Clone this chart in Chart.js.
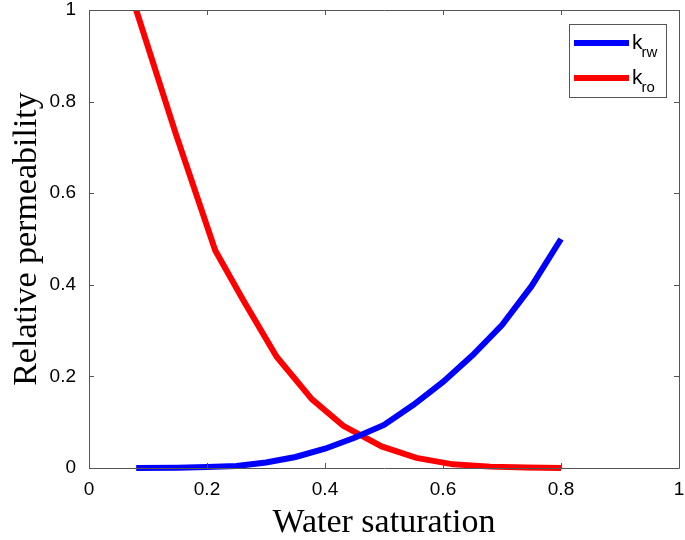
<!DOCTYPE html>
<html>
<head>
<meta charset="utf-8">
<script src="https://cdn.jsdelivr.net/npm/chart.js@4/dist/chart.umd.min.js"></script>
<style>
  html, body { margin: 0; padding: 0; background: #fff; }
  #permChart { display: block; }
</style>
</head>
<body>
<canvas id="permChart" width="685" height="540"></canvas>
<script>
// water saturation points and relative permeability
const waterSatW = [0.08, 0.15, 0.20, 0.25, 0.30, 0.35, 0.40, 0.45, 0.50, 0.55, 0.60, 0.65, 0.70, 0.75, 0.80];
const krw = [0, 0.0008, 0.002, 0.0045, 0.012, 0.024, 0.042, 0.066, 0.094, 0.138, 0.188, 0.246, 0.312, 0.397, 0.50];

const waterSatO = [0.08, 0.147, 0.214, 0.262, 0.318, 0.378, 0.431, 0.496, 0.555, 0.617, 0.68, 0.74, 0.80];
const kro = [1.0, 0.73, 0.475, 0.365, 0.243, 0.150, 0.092, 0.047, 0.022, 0.008, 0.003, 0.001, 0.0];

const legendBase = ['k', 'k'];
const legendSub = ['rw', 'ro'];
const tickValues = [0, 0.2, 0.4, 0.6, 0.8, 1];

const boxColor = '#555555';
const tickFont = { family: '"Liberation Sans", Arial, sans-serif', size: 19 };
const titleFont = { family: '"Liberation Serif", "Times New Roman", serif', size: 34, lineHeight: 1 };

const toPoints = (xs, ys) => xs.map((x, i) => ({ x: x, y: ys[i] }));

// matlab style box with ticks pointing inward on all four sides
const boxPlugin = {
  id: 'matlabBox',
  afterDatasetsDraw(chart) {
    const { ctx, chartArea } = chart;
    const { left, right, top, bottom } = chartArea;
    const xs = chart.scales.x;
    const ys = chart.scales.y;
    const len = 5;
    ctx.save();
    ctx.strokeStyle = boxColor;
    ctx.lineWidth = 1;
    ctx.beginPath();
    ctx.rect(Math.round(left) + 0.5, Math.round(top) + 0.5, Math.round(right - left), Math.round(bottom - top));
    xs.ticks.forEach(t => {
      const px = Math.round(xs.getPixelForValue(t.value)) + 0.5;
      ctx.moveTo(px, bottom);
      ctx.lineTo(px, bottom - len);
      ctx.moveTo(px, top);
      ctx.lineTo(px, top + len);
    });
    ys.ticks.forEach(t => {
      const py = Math.round(ys.getPixelForValue(t.value)) + 0.5;
      ctx.moveTo(left, py);
      ctx.lineTo(left + len, py);
      ctx.moveTo(right, py);
      ctx.lineTo(right - len, py);
    });
    ctx.stroke();
    ctx.restore();
  }
};

// legend with subscripts (k_rw, k_ro)
const legendPlugin = {
  id: 'subLegend',
  afterDraw(chart) {
    const { ctx } = chart;
    const bx = 569.5, by = 24.5, bw = 97, bh = 73;
    ctx.save();
    ctx.fillStyle = '#fff';
    ctx.fillRect(bx, by, bw, bh);
    ctx.strokeStyle = boxColor;
    ctx.lineWidth = 1;
    ctx.strokeRect(bx, by, bw, bh);
    chart.data.datasets.forEach((ds, i) => {
      const y = 43 + i * 35;
      ctx.strokeStyle = ds.borderColor;
      ctx.lineWidth = 6;
      ctx.beginPath();
      ctx.moveTo(574, y);
      ctx.lineTo(629, y);
      ctx.stroke();
      ctx.fillStyle = '#000';
      ctx.textBaseline = 'alphabetic';
      ctx.textAlign = 'left';
      ctx.font = '21px "Liberation Sans", Arial, sans-serif';
      ctx.fillText(legendBase[i], 632, y + 6);
      const w = ctx.measureText(legendBase[i]).width;
      ctx.font = '15px "Liberation Sans", Arial, sans-serif';
      ctx.fillText(legendSub[i], 632 + w - 1, y + 14);
    });
    ctx.restore();
  }
};

const ctx = document.getElementById('permChart').getContext('2d');
const permChart = new Chart(ctx, {
  type: 'line',
  data: {
    datasets: [
      {
        label: legendBase[0] + legendSub[0],
        data: toPoints(waterSatW, krw),
        borderColor: '#0000ff',
        borderWidth: 6,
        pointRadius: 0,
        tension: 0,
        fill: false,
        clip: { left: 3, right: 3, top: 0, bottom: 3 }
      },
      {
        label: legendBase[1] + legendSub[1],
        data: toPoints(waterSatO, kro),
        borderColor: '#ff0000',
        borderWidth: 6,
        pointRadius: 0,
        tension: 0,
        fill: false,
        clip: { left: 3, right: 3, top: 0, bottom: 3 }
      }
    ]
  },
  options: {
    responsive: false,
    animation: false,
    layout: { padding: { top: 10, right: 6, left: 0, bottom: 0 } },
    plugins: {
      legend: { display: false },
      tooltip: { enabled: false }
    },
    scales: {
      x: {
        type: 'linear',
        min: 0,
        max: 1,
        afterBuildTicks: scale => { scale.ticks = tickValues.map(v => ({ value: v })); },
        ticks: { color: '#000', font: tickFont, padding: 10, maxRotation: 0, callback: v => String(v) },
        grid: { display: false, drawTicks: false },
        border: { display: false },
        title: { display: true, text: 'Water saturation', color: '#000', font: titleFont, padding: { top: 0, bottom: 0 } },
        afterFit: scale => {
          scale.height = 72;
          scale.paddingLeft = 0;
          scale.paddingRight = 0;
        }
      },
      y: {
        type: 'linear',
        min: 0,
        max: 1,
        afterBuildTicks: scale => { scale.ticks = tickValues.map(v => ({ value: v })); },
        ticks: { color: '#000', font: tickFont, padding: 13, callback: v => String(v) },
        grid: { display: false, drawTicks: false },
        border: { display: false },
        title: { display: true, text: 'Relative permeability', color: '#000', font: titleFont, padding: { top: 10, bottom: 0 } },
        afterFit: scale => {
          scale.width = 89;
          scale.paddingTop = 0;
          scale.paddingBottom = 0;
        }
      }
    }
  },
  plugins: [boxPlugin, legendPlugin]
});
</script>
</body>
</html>
